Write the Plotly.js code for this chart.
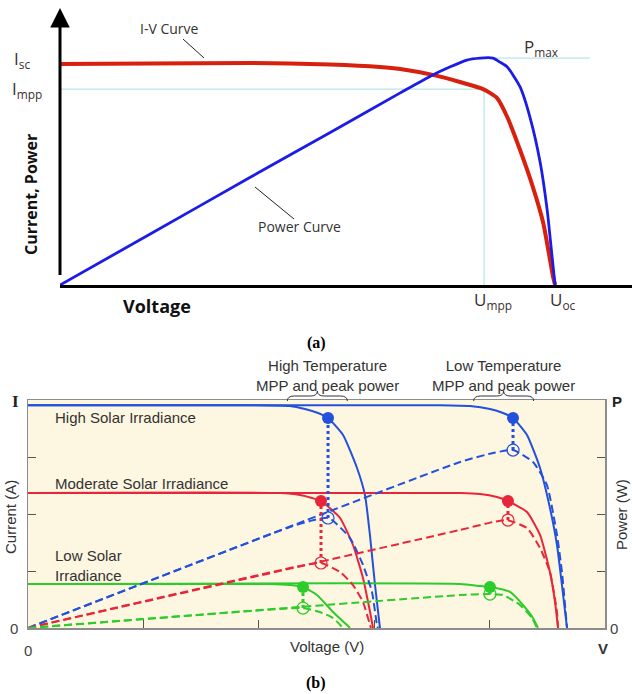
<!DOCTYPE html>
<html><head><meta charset="utf-8">
<script src="https://cdn.plot.ly/plotly-3.0.1.min.js"></script>
<style>html,body{margin:0;padding:0;background:#fff}#chart{width:632px;height:694px}</style>
</head><body><div id="chart"></div>
<script>
// ---------- Panel (a): generic I-V and P-V curve ----------
const aIvVolt = [0, 18.3, 38.5, 54.8, 64.9, 69.0, 75.6, 81.1, 85.8, 88.6, 90.7, 93.3, 95.9, 98.0, 100.0, 100.4];
const aIvCurr = [99.7, 99.9, 100.2, 99.5, 98.4, 97.5, 94.8, 91.6, 88.4, 84.4, 75.8, 60.9, 44.2, 28.0, 3.6, 0];
const aPvVolt = [0, 18.3, 38.5, 54.8, 69.0, 75.6, 82.5, 85.2, 87.8, 89.2, 90.7, 93.3, 95.3, 97.4, 98.8, 99.8, 100.4];
const aPvPower = [0, 23.0, 48.5, 68.8, 86.7, 94.8, 101.5, 102.4, 102.4, 100.6, 98.4, 89.4, 75.8, 55.1, 33.8, 12.6, 0];
const aIsc = 99.7, aImpp = 88.4, aUmpp = 86.0, aUoc = 100.4, aPmax = 102.4;
const aPmaxLineEnd = 107.5;

// ---------- Panel (b): irradiance / temperature families ----------
// current axis 0..4 (I), power axis 0..20 (P), voltage 0..5 (V)
const bBlueHT_V = [0, 1.924, 2.270, 2.400, 2.513, 2.600, 2.730, 2.851, 2.920, 2.963, 3.007, 3.050];
const bBlueHT_I = [3.91, 3.91, 3.895, 3.842, 3.772, 3.684, 3.386, 2.807, 2.333, 1.632, 0.754, 0];
const bBlueLT_V = [0, 3.570, 3.830, 4.003, 4.116, 4.203, 4.324, 4.437, 4.523, 4.584, 4.627, 4.671];
const bBlueLT_I = [3.91, 3.91, 3.895, 3.842, 3.772, 3.684, 3.386, 2.807, 2.105, 1.456, 0.754, 0];
const bBlueHT_PV = [0, 2.270, 2.444, 2.608, 2.790, 2.903, 2.981, 3.024, 3.033];
const bBlueHT_P = [0, 8.86, 9.39, 9.65, 7.89, 5.53, 3.16, 0.26, 0];
const bBlueLT_PV = [0, 3.744, 4.029, 4.203, 4.376, 4.497, 4.584, 4.627, 4.671];
const bBlueLT_P = [0, 14.56, 15.35, 15.61, 14.56, 12.54, 8.16, 4.91, 0];

const bRedHT_V = [0, 2.184, 2.357, 2.461, 2.539, 2.704, 2.816, 2.903, 2.964, 2.990];
const bRedHT_I = [2.368, 2.368, 2.333, 2.281, 2.228, 1.930, 1.456, 0.877, 0.281, 0];
const bRedLT_V = [0, 3.744, 3.917, 4.064, 4.159, 4.324, 4.437, 4.523, 4.567, 4.593];
const bRedLT_I = [2.368, 2.368, 2.351, 2.298, 2.228, 2.035, 1.632, 0.982, 0.456, 0];
const bRedHT_PV = [0, 2.357, 2.539, 2.704, 2.816, 2.903, 2.964, 2.972];
const bRedHT_P = [0, 5.44, 5.70, 4.91, 3.77, 2.28, 0.26, 0];
const bRedLT_PV = [0, 3.744, 4.029, 4.151, 4.324, 4.437, 4.523, 4.584, 4.593];
const bRedLT_P = [0, 8.60, 9.30, 9.47, 8.77, 7.02, 4.91, 1.40, 0];

const bGreenHT_V = [0, 2.097, 2.270, 2.383, 2.504, 2.643, 2.764, 2.790];
const bGreenHT_I = [0.772, 0.772, 0.754, 0.719, 0.579, 0.281, 0.053, 0];
const bGreenLT_V = [0, 3.744, 3.917, 4.003, 4.177, 4.289, 4.376, 4.419];
const bGreenLT_I = [0.772, 0.772, 0.737, 0.719, 0.632, 0.404, 0.175, 0];
const bGreenHT_PV = [0, 2.184, 2.383, 2.530, 2.643, 2.730];
const bGreenHT_P = [0, 1.67, 1.75, 1.40, 0.88, 0];
const bGreenLT_PV = [0, 3.744, 4.003, 4.116, 4.263, 4.367, 4.411];
const bGreenLT_P = [0, 2.89, 2.98, 2.89, 2.02, 0.88, 0];

// MPP points: order blue (high), red (moderate), green (low irradiance)
const mppHT_V = [2.600, 2.539, 2.383];
const mppHT_I = [3.684, 2.228, 0.719];
const mppHT_P = [9.65, 5.70, 1.75];
const mppLT_V = [4.203, 4.159, 4.003];
const mppLT_I = [3.684, 2.228, 0.719];
const mppLT_P = [15.61, 9.47, 2.98];
const familyColors = ['#2350dc', '#e8263a', '#2ccc2c'];

const bVRange = [0, 5], bIRange = [0, 4], bPRange = [0, 20];

// ---------- helpers (pixel -> paper) ----------
const W = 632, H = 694;
const px = x => x / W;
const py = y => (H - y) / H;

const traces = [];
// Panel (a)
traces.push({x: [0, aUmpp], y: [aImpp, aImpp], xaxis: 'x', yaxis: 'y', mode: 'lines', line: {color: '#a9dede', width: 1}, hoverinfo: 'skip'});
traces.push({x: [aUmpp, aUmpp], y: [0, aImpp], xaxis: 'x', yaxis: 'y', mode: 'lines', line: {color: '#a9dede', width: 1}, hoverinfo: 'skip'});
traces.push({x: [87.8, aPmaxLineEnd], y: [aPmax, aPmax], xaxis: 'x', yaxis: 'y', mode: 'lines', line: {color: '#a9dede', width: 1}, hoverinfo: 'skip'});
traces.push({x: aIvVolt, y: aIvCurr, xaxis: 'x', yaxis: 'y', mode: 'lines', line: {color: '#d8200f', width: 4, shape: 'spline', smoothing: 0.6}, name: 'I-V Curve'});
traces.push({x: aPvVolt, y: aPvPower, xaxis: 'x', yaxis: 'y', mode: 'lines', line: {color: '#1c1ce6', width: 2.8, shape: 'spline', smoothing: 0.6}, name: 'Power Curve'});

// Panel (b)
const ivSets = [[bBlueHT_V, bBlueHT_I], [bBlueLT_V, bBlueLT_I], [bRedHT_V, bRedHT_I], [bRedLT_V, bRedLT_I], [bGreenHT_V, bGreenHT_I], [bGreenLT_V, bGreenLT_I]];
const pvSets = [[bBlueHT_PV, bBlueHT_P], [bBlueLT_PV, bBlueLT_P], [bRedHT_PV, bRedHT_P], [bRedLT_PV, bRedLT_P], [bGreenHT_PV, bGreenHT_P], [bGreenLT_PV, bGreenLT_P]];
ivSets.forEach((s, i) => traces.push({x: s[0], y: s[1], xaxis: 'x2', yaxis: 'y2', mode: 'lines',
  line: {color: familyColors[Math.floor(i / 2)], width: 2, shape: 'spline', smoothing: 0.5}}));
pvSets.forEach((s, i) => traces.push({x: s[0], y: s[1], xaxis: 'x2', yaxis: 'y3', mode: 'lines',
  line: {color: familyColors[Math.floor(i / 2)], width: 2, dash: '8px,4px', shape: 'spline', smoothing: 0.5}}));
// dotted connectors from MPP (current) to peak power
const pPerI = (bPRange[1] - bPRange[0]) / (bIRange[1] - bIRange[0]);
[[mppHT_V, mppHT_I, mppHT_P], [mppLT_V, mppLT_I, mppLT_P]].forEach(g => {
  g[0].forEach((v, k) => traces.push({x: [v, v], y: [g[2][k], g[1][k] * pPerI], xaxis: 'x2', yaxis: 'y3', mode: 'lines',
    line: {color: familyColors[k], width: 3, dash: 'dot'}}));
});
// markers
[[mppHT_V, mppHT_I, mppHT_P], [mppLT_V, mppLT_I, mppLT_P]].forEach(g => {
  traces.push({x: g[0], y: g[2], xaxis: 'x2', yaxis: 'y3', mode: 'markers',
    marker: {symbol: 'circle-open', size: 12, color: familyColors, line: {width: 1.2}}});
  traces.push({x: g[0], y: g[1], xaxis: 'x2', yaxis: 'y2', mode: 'markers',
    marker: {symbol: 'circle', size: 12, color: familyColors}});
});

const ann = [];
const lbl = (x, y, text, opt) => ann.push(Object.assign({xref: 'paper', yref: 'paper', x: px(x), y: py(y), text: text, showarrow: false, xanchor: 'center', yanchor: 'middle',
  font: {family: 'Open Sans, DejaVu Sans, sans-serif', size: 14, color: '#3c3030'}}, opt || {}));
const af = s => ({family: 'Open Sans, sans-serif', size: s, color: '#3c3030'});
// panel (a) labels
lbl(22, 59, 'I<sub>sc</sub>', {font: af(17)});
lbl(27, 89, 'I<sub>mpp</sub>', {font: af(17)});
lbl(541, 48, 'P<sub>max</sub>', {font: af(17)});
lbl(493, 300, 'U<sub>mpp</sub>', {font: af(17)});
lbl(563, 301, 'U<sub>oc</sub>', {font: af(17)});
lbl(169, 29, 'I-V Curve', {font: {family: 'Open Sans, sans-serif', size: 14, color: '#333'}});
lbl(299, 227, 'Power Curve', {font: {family: 'Open Sans, sans-serif', size: 14, color: '#333'}});
lbl(157, 306, '<b>Voltage</b>', {font: {family: 'Open Sans, sans-serif', size: 18, color: '#111'}});
lbl(31, 195, '<b>Current, Power</b>', {textangle: -90, font: {family: 'Open Sans, sans-serif', size: 16, color: '#111'}});
// y-axis arrow of panel (a)
ann.push({xref: 'x', yref: 'y', axref: 'x', ayref: 'y', x: 0, y: 125, ax: 0, ay: 0, text: ' ', showarrow: true,
  arrowhead: 2, arrowsize: 1.3, arrowwidth: 3, arrowcolor: '#000', standoff: 0});
// captions
lbl(316, 343, '<b>(a)</b>', {font: {family: 'Liberation Serif, serif', size: 16, color: '#000'}});
lbl(316, 683, '<b>(b)</b>', {font: {family: 'Liberation Serif, serif', size: 16, color: '#000'}});
// panel (b) labels
const bf = {family: 'Liberation Sans, Arial, sans-serif', size: 15, color: '#333'};
ann.push({xref: 'x2', yref: 'y2', x: 0.22, y: 3.70, text: 'High Solar Irradiance', showarrow: false, xanchor: 'left', yanchor: 'middle', font: bf});
ann.push({xref: 'x2', yref: 'y2', x: 0.22, y: 2.53, text: 'Moderate Solar Irradiance', showarrow: false, xanchor: 'left', yanchor: 'middle', font: bf});
ann.push({xref: 'x2', yref: 'y2', x: 0.22, y: 1.09, text: 'Low Solar<br>Irradiance', showarrow: false, xanchor: 'left', yanchor: 'middle', align: 'left', font: bf});
lbl(327, 375, 'High Temperature<br>MPP and peak power', {font: bf});
lbl(503, 375, 'Low Temperature<br>MPP and peak power', {font: bf});
lbl(10, 517, 'Current (A)', {textangle: -90, font: bf});
lbl(621, 515, 'Power (W)', {textangle: -90, font: bf});
lbl(327, 646, 'Voltage (V)', {font: bf});
lbl(15, 401, '<b>I</b>', {font: {family: 'Liberation Serif, serif', size: 17, color: '#222'}});
lbl(617, 401, '<b>P</b>', {font: {family: 'Liberation Sans, sans-serif', size: 15, color: '#222'}});
lbl(14, 628, '0', {font: {family: 'Liberation Sans, sans-serif', size: 15, color: '#444'}});
lbl(614, 628, '0', {font: {family: 'Liberation Sans, sans-serif', size: 15, color: '#444'}});
lbl(28, 650, '0', {font: {family: 'Liberation Sans, sans-serif', size: 15, color: '#444'}});
lbl(603, 648, '<b>V</b>', {font: {family: 'Liberation Sans, sans-serif', size: 15, color: '#333'}});

// shapes
const shapes = [];
// panel (b) background
shapes.push({type: 'rect', xref: 'x2 domain', yref: 'y2 domain', x0: 0, x1: 1, y0: 0, y1: 1, fillcolor: '#fdf6e0', line: {width: 0}, layer: 'below'});
// leader lines in panel (a)
shapes.push({type: 'line', xref: 'paper', yref: 'paper', x0: px(183), y0: py(39), x1: px(204), y1: py(58), line: {color: '#222', width: 1}});
shapes.push({type: 'line', xref: 'paper', yref: 'paper', x0: px(255), y0: py(187), x1: px(294), y1: py(219), line: {color: '#222', width: 1}});
// braces over the MPP groups
const avg = a => a.reduce((s, v) => s + v, 0) / a.length;
[avg(mppHT_V), avg(mppLT_V)].forEach(c => {
  const hw = 0.26, d = 0.06, yb = py(401), ym = py(396), yt = py(391);
  const p = `M ${c - hw},${yb} Q ${c - hw},${ym} ${c - hw + d},${ym} L ${c - d},${ym} Q ${c},${ym} ${c},${yt} Q ${c},${ym} ${c + d},${ym} L ${c + hw - d},${ym} Q ${c + hw},${ym} ${c + hw},${yb}`;
  shapes.push({type: 'path', xref: 'x2', yref: 'paper', path: p, line: {color: '#333', width: 1}});
});

const layout = {
  width: W, height: H, margin: {l: 0, r: 0, t: 0, b: 0},
  paper_bgcolor: '#fff', plot_bgcolor: 'rgba(0,0,0,0)', showlegend: false,
  xaxis: {domain: [px(60), 1], range: [0, 116], anchor: 'y', showline: true, linewidth: 3, linecolor: '#000',
    showgrid: false, zeroline: false, showticklabels: false, ticks: ''},
  yaxis: {domain: [py(285), py(8)], range: [0, 125], anchor: 'x', showline: false,
    showgrid: false, zeroline: false, showticklabels: false, ticks: ''},
  xaxis2: {domain: [px(28), px(605)], range: bVRange, anchor: 'y2', showline: true, mirror: true, linewidth: 1.5, linecolor: '#8c8c8c',
    showgrid: false, zeroline: false, showticklabels: false, ticks: 'inside', ticklen: 8, tickcolor: '#555', tickvals: [1, 2, 3, 4]},
  yaxis2: {domain: [py(628), py(400)], range: bIRange, anchor: 'x2', showline: true, mirror: true, linewidth: 1.5, linecolor: '#8c8c8c',
    showgrid: false, zeroline: false, showticklabels: false, ticks: 'inside', ticklen: 8, tickcolor: '#555', tickvals: [1, 2, 3]},
  yaxis3: {overlaying: 'y2', side: 'right', range: bPRange, anchor: 'x2', showline: false,
    showgrid: false, zeroline: false, showticklabels: false, ticks: 'inside', ticklen: 8, tickcolor: '#555', tickvals: [5, 10, 15]},
  annotations: ann, shapes: shapes
};

Plotly.newPlot('chart', traces, layout, {displayModeBar: false, staticPlot: true});
</script>
</body></html>
